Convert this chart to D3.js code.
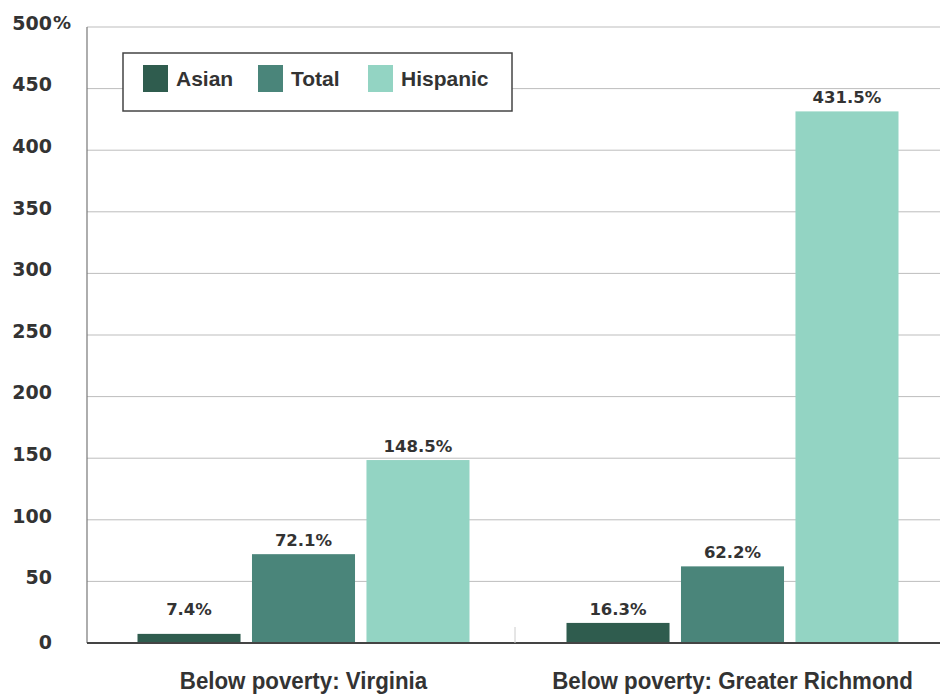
<!DOCTYPE html>
<html>
<head>
<meta charset="utf-8">
<script src="https://cdn.jsdelivr.net/npm/d3@7"></script>
<style>
  html, body { margin: 0; padding: 0; background: #fff; }
  svg { display: block; }
</style>
</head>
<body>
<svg id="chart" width="940" height="695"></svg>
<script>
const categories = ["Below poverty: Virginia", "Below poverty: Greater Richmond"];
const seriesNames = ["Asian", "Total", "Hispanic"];
const asianValues = [7.4, 16.3];
const totalValues = [72.1, 62.2];
const hispanicValues = [148.5, 431.5];
const yTicks = [0, 50, 100, 150, 200, 250, 300, 350, 400, 450, 500];
const colors = ["#2f5c4e", "#4a857a", "#93d4c3"];

const seriesValues = [asianValues, totalValues, hispanicValues];
const svg = d3.select("#chart");
const font = "'Liberation Sans', Arial, sans-serif";
const wideFont = "'DejaVu Sans', Verdana, sans-serif";

const plotLeft = 87, plotRight = 940, plotTop = 27, plotBottom = 643;
const y = d3.scaleLinear().domain([0, 500]).range([plotBottom, plotTop]);
const x0 = d3.scaleBand().domain(categories).range([89, 947]).padding(0);
const groupW = 332;
const x1 = d3.scaleBand().domain(seriesNames)
  .range([(x0.bandwidth() - groupW) / 2, (x0.bandwidth() + groupW) / 2])
  .paddingInner(0.1).paddingOuter(0);

// gridlines
svg.append("g").selectAll("line").data(yTicks.filter(d => d > 0)).join("line")
  .attr("x1", plotLeft).attr("x2", plotRight)
  .attr("y1", d => y(d)).attr("y2", d => y(d))
  .attr("stroke", "#bdbdbd").attr("stroke-width", 1);

// y axis line
svg.append("line").attr("x1", plotLeft).attr("x2", plotLeft)
  .attr("y1", y(500)).attr("y2", plotBottom)
  .attr("stroke", "#777").attr("stroke-width", 1.2);

// y tick labels
const tl = svg.append("g").attr("font-family", wideFont).attr("font-weight", "bold")
  .attr("font-size", 19).attr("fill", "#333");
tl.selectAll("text").data(yTicks).join("text")
  .attr("x", 52)
  .attr("y", d => y(d) - (d === 0 ? 1 : 4))
  .attr("dy", "0.36em")
  .attr("text-anchor", "end")
  .text(d => d);
tl.append("text").attr("x", 53).attr("y", y(500) - 4).attr("dy", "0.36em")
  .attr("font-size", 18).text("%");

// bars
const groups = svg.append("g").selectAll("g").data(categories).join("g")
  .attr("transform", c => `translate(${x0(c)},0)`);
groups.selectAll("rect").data((c, ci) => seriesNames.map((s, si) => ({s, si, v: seriesValues[si][ci]})))
  .join("rect")
  .attr("x", d => x1(d.s))
  .attr("width", x1.bandwidth())
  .attr("y", d => y(d.v))
  .attr("height", d => plotBottom - y(d.v))
  .attr("fill", d => colors[d.si]);

groups.selectAll("text").data((c, ci) => seriesNames.map((s, si) => ({s, si, v: seriesValues[si][ci]})))
  .join("text")
  .attr("x", d => x1(d.s) + x1.bandwidth() / 2)
  .attr("y", d => Math.min(y(d.v) - 8, plotBottom - 28))
  .attr("text-anchor", "middle")
  .attr("font-family", wideFont).attr("font-weight", "bold").attr("font-size", 16.5)
  .attr("fill", "#333")
  .text(d => d.v.toFixed(1) + "%");

// baseline
svg.append("line").attr("x1", plotLeft).attr("x2", plotRight)
  .attr("y1", plotBottom).attr("y2", plotBottom)
  .attr("stroke", "#444").attr("stroke-width", 2);

// small separator tick between categories
svg.append("line").attr("x1", x0(categories[1]) - 3).attr("x2", x0(categories[1]) - 3)
  .attr("y1", plotBottom - 16).attr("y2", plotBottom)
  .attr("stroke", "#ccc").attr("stroke-width", 1);

// category labels
svg.append("g").selectAll("text").data(categories).join("text")
  .attr("transform", c => `translate(${x0(c) + x0.bandwidth() / 2},689) scale(0.93,1)`)
  .attr("text-anchor", "middle")
  .attr("font-family", font)
  .attr("font-weight", "bold").attr("font-size", 24)
  .attr("fill", "#333")
  .text(c => c);

// legend
const lg = svg.append("g");
lg.append("rect").attr("x", 123).attr("y", 53).attr("width", 389).attr("height", 58)
  .attr("fill", "#fff").attr("stroke", "#444").attr("stroke-width", 1.5);
const legendX = [143, 258, 368];
seriesNames.forEach((s, i) => {
  lg.append("rect").attr("x", legendX[i]).attr("y", 65).attr("width", 25).attr("height", 27)
    .attr("fill", colors[i]);
  lg.append("text").attr("x", legendX[i] + 33).attr("y", 79).attr("dy", "0.35em")
    .attr("font-family", font).attr("font-weight", "bold").attr("font-size", 21)
    .attr("fill", "#333").text(s);
});
</script>
</body>
</html>
